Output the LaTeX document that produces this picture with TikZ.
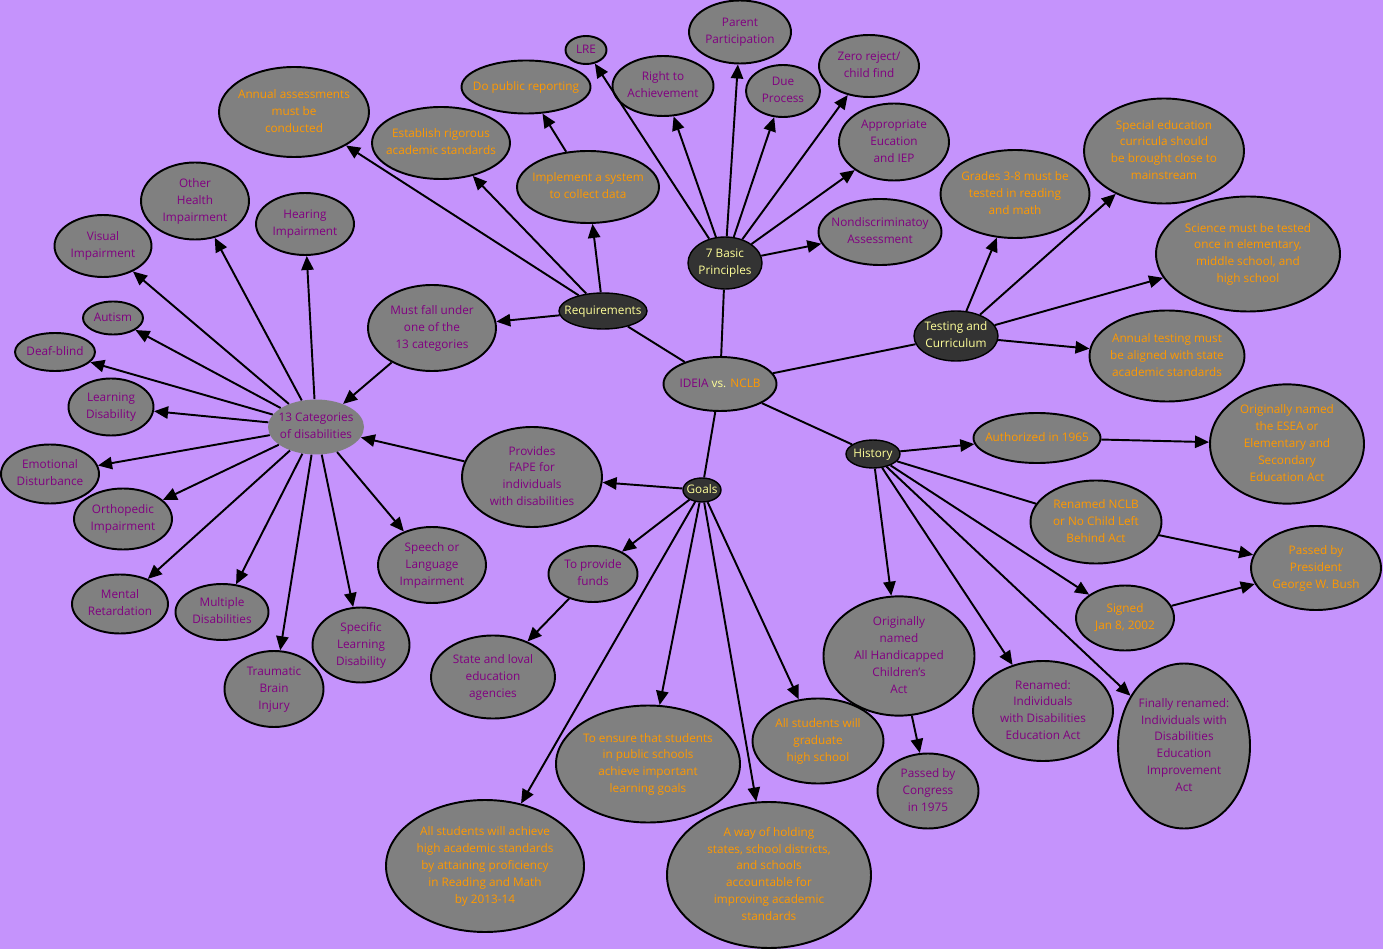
\documentclass[tikz,border=0pt]{standalone}
\usepackage{fontspec}
\setmainfont{Open Sans}
\usepackage{tikz}
\usetikzlibrary{arrows.meta,shapes.geometric}
\definecolor{BgLilac}{HTML}{C593FC}
\definecolor{BubGray}{HTML}{808080}
\definecolor{HubDark}{HTML}{333333}
\definecolor{TxtPurple}{HTML}{800080}
\definecolor{TxtOrange}{HTML}{FF9900}
\definecolor{TxtCream}{HTML}{FFFF99}
% text that does not stretch its ellipse
\newcommand\ctr[1]{\makebox[0pt]{\begin{tabular}{@{}c@{}}#1\end{tabular}}}
\begin{document}
\begin{tikzpicture}[x=0.02cm,y=-0.02cm,
font=\fontsize{6.7}{9.6}\selectfont,
sz/.style 2 args={minimum width=#1*0.02cm,minimum height=#2*0.02cm},
bub/.style={ellipse,draw=black,line width=1.1pt,fill=BubGray,inner sep=0pt},
hub/.style={ellipse,draw=black,line width=0.8pt,fill=HubDark,text=TxtCream,inner sep=0pt},
ptxt/.style={text=TxtPurple},
otxt/.style={text=TxtOrange},
arr/.style={-{Triangle[length=8pt,width=7pt]},line width=1.1pt},
ln/.style={line width=1.1pt}
]
\fill[BgLilac] (0,0) rectangle (1383,949);
\useasboundingbox (0,0) rectangle (1383,949);
% centre and hubs
\node[bub,sz={113}{54}] (c) at (720,384) {\ctr{\textcolor{TxtPurple}{IDEIA} \textcolor{TxtCream}{vs.} \textcolor{TxtOrange}{NCLB}}};
\node[hub,sz={88}{36}] (req) at (603,311) {\ctr{Requirements}};
\node[hub,sz={74}{52}] (bp) at (725,263) {\ctr{7 Basic\\Principles}};
\node[hub,sz={84}{50}] (tc) at (956,336) {\ctr{Testing and\\Curriculum}};
\node[hub,sz={54}{28}] (hist) at (873,454) {\ctr{History}};
\node[hub,sz={38}{24}] (goals) at (702,490) {\ctr{Goals}};
% requirements
\node[bub,otxt,sz={150}{90}] (annual) at (294,112) {\ctr{Annual assessments\\must be\\conducted}};
\node[bub,otxt,sz={138}{72}] (estab) at (441,143) {\ctr{Establish rigorous\\academic standards}};
\node[bub,otxt,sz={129}{53}] (pub) at (526,87) {\ctr{Do public reporting}};
\node[bub,otxt,sz={142}{72}] (impl) at (588,187) {\ctr{Implement a system\\to collect data}};
\node[bub,ptxt,sz={128}{86}] (must) at (432,328) {\ctr{Must fall under\\one of the\\13 categories}};
% categories
\node[ellipse,fill=BubGray,ptxt,inner sep=0pt,sz={96}{55}] (cat) at (316,427) {\ctr{13 Categories\\of disabilities}};
\node[bub,ptxt,sz={97}{62}] (vis) at (103,246) {\ctr{Visual\\Impairment}};
\node[bub,ptxt,sz={108}{77}] (ohi) at (195,201) {\ctr{Other\\Health\\Impairment}};
\node[bub,ptxt,sz={98}{62}] (hear) at (305,224) {\ctr{Hearing\\Impairment}};
\node[bub,ptxt,sz={60}{33}] (aut) at (113,318) {\ctr{Autism}};
\node[bub,ptxt,sz={80}{38}] (deaf) at (55,352) {\ctr{Deaf-blind}};
\node[bub,ptxt,sz={85}{57}] (ld) at (111,407) {\ctr{Learning\\Disability}};
\node[bub,ptxt,sz={98}{59}] (emo) at (50,474) {\ctr{Emotional\\Disturbance}};
\node[bub,ptxt,sz={98}{61}] (orth) at (123,519) {\ctr{Orthopedic\\Impairment}};
\node[bub,ptxt,sz={96}{59}] (ment) at (120,604) {\ctr{Mental\\Retardation}};
\node[bub,ptxt,sz={93}{56}] (mult) at (222,612) {\ctr{Multiple\\Disabilities}};
\node[bub,ptxt,sz={99}{76}] (tbi) at (274,689) {\ctr{Traumatic\\Brain\\Injury}};
\node[bub,ptxt,sz={97}{75}] (sld) at (361,645) {\ctr{Specific\\Learning\\Disability}};
\node[bub,ptxt,sz={108}{76}] (speech) at (432,565) {\ctr{Speech or\\Language\\Impairment}};
\node[bub,ptxt,sz={140}{100}] (fape) at (532,477) {\ctr{Provides\\FAPE for\\individuals\\with disabilities}};
% basic principles
\node[bub,ptxt,sz={41}{28}] (lre) at (586,50) {\ctr{LRE}};
\node[bub,ptxt,sz={101}{60}] (right) at (663,86) {\ctr{Right to\\Achievement}};
\node[bub,ptxt,sz={102}{63}] (parent) at (740,32) {\ctr{Parent\\Participation}};
\node[bub,ptxt,sz={74}{52}] (due) at (783,91) {\ctr{Due\\Process}};
\node[bub,ptxt,sz={100}{62}] (zero) at (869,66) {\ctr{Zero reject/\\child find}};
\node[bub,ptxt,sz={110}{77}] (appr) at (894,142) {\ctr{Appropriate\\Eucation\\and IEP}};
\node[bub,ptxt,sz={123}{66}] (nondisc) at (880,232) {\ctr{Nondiscriminatoy\\Assessment}};
% testing and curriculum
\node[bub,otxt,sz={149}{88}] (grades) at (1015,194) {\ctr{Grades 3-8 must be\\tested in reading\\and math}};
\node[bub,otxt,sz={160}{105}] (special) at (1164,151) {\ctr{Special education\\curricula should\\be brought close to\\mainstream}};
\node[bub,otxt,sz={184}{115}] (science) at (1248,254) {\ctr{Science must be tested\\once in elementary,\\middle school, and\\high school}};
\node[bub,otxt,sz={155}{91}] (align) at (1167,356) {\ctr{Annual testing must\\be aligned with state\\academic standards}};
% history
\node[bub,otxt,sz={127}{50}] (auth) at (1037,438) {\ctr{Authorized in 1965}};
\node[bub,otxt,sz={154}{115}] (esea) at (1287,444) {\ctr{Originally named\\the ESEA or\\Elementary and\\Secondary\\Education Act}};
\node[bub,otxt,sz={131}{83}] (nclb) at (1096,522) {\ctr{Renamed NCLB\\or No Child Left\\Behind Act}};
\node[bub,otxt,sz={130}{84}] (bush) at (1316,568) {\ctr{Passed by\\President\\George W. Bush}};
\node[bub,otxt,sz={98}{65}] (signed) at (1125,618) {\ctr{Signed\\Jan 8, 2002}};
\node[bub,ptxt,sz={151}{116}] (ahca) at (899,656) {\ctr{Originally\\named\\All Handicapped\\Children's\\Act}};
\node[bub,ptxt,sz={101}{75}] (cong) at (928,791) {\ctr{Passed by\\Congress\\in 1975}};
\node[bub,ptxt,sz={140}{100}] (idea) at (1043,711) {\ctr{Renamed:\\Individuals\\with Disabilities\\Education Act}};
\node[bub,ptxt,sz={132}{165}] (idea2) at (1184,746) {\ctr{Finally renamed:\\Individuals with\\Disabilities\\Education\\Improvement\\Act}};
% goals
\node[bub,ptxt,sz={89}{56}] (funds) at (593,574) {\ctr{To provide\\funds}};
\node[bub,ptxt,sz={124}{83}] (agency) at (493,677) {\ctr{State and loval\\education\\agencies}};
\node[bub,otxt,sz={198}{132}] (achieve) at (485,866) {\ctr{All students will achieve\\high academic standards\\by attaining proficiency\\in Reading and Math\\by 2013-14}};
\node[bub,otxt,sz={184}{117}] (ensure) at (648,764) {\ctr{To ensure that students\\in public schools\\achieve important\\learning goals}};
\node[bub,otxt,sz={204}{146}] (way) at (769,875) {\ctr{A way of holding\\states, school districts,\\and schools\\accountable for\\improving academic\\standards}};
\node[bub,otxt,sz={131}{85}] (grad) at (818,741) {\ctr{All students will\\graduate\\high school}};
% links
\draw[ln] (c) -- (req);
\draw[ln] (c) -- (bp);
\draw[ln] (c) -- (tc);
\draw[ln] (c) -- (hist);
\draw[ln] (c) -- (goals);
\draw[arr] (req) -- (annual);
\draw[arr] (req) -- (estab);
\draw[arr] (req) -- (impl);
\draw[arr] (req) -- (must);
\draw[arr] (impl) -- (pub);
\draw[arr] (must) -- (cat);
\foreach \k in {vis,ohi,hear,aut,deaf,ld,emo,orth,ment,mult,tbi,sld,speech}
  \draw[arr] (cat) -- (\k);
\draw[arr] (fape) -- (cat);
\draw[arr] (goals) -- (fape);
\foreach \k in {lre,right,parent,due,zero,appr,nondisc}
  \draw[arr] (bp) -- (\k);
\foreach \k in {grades,special,science,align}
  \draw[arr] (tc) -- (\k);
\draw[arr] (hist) -- (auth);
\draw[arr] (auth) -- (esea);
\draw[ln] (hist) -- (nclb);
\draw[arr] (nclb) -- (bush);
\draw[arr] (hist) -- (signed);
\draw[arr] (signed) -- (bush);
\draw[arr] (hist) -- (ahca);
\draw[arr] (ahca) -- (cong);
\draw[arr] (hist) -- (idea);
\draw[arr] (hist) -- (idea2);
\draw[arr] (goals) -- (funds);
\draw[arr] (funds) -- (agency);
\foreach \k in {achieve,ensure,way,grad}
  \draw[arr] (goals) -- (\k);
\end{tikzpicture}
\end{document}
